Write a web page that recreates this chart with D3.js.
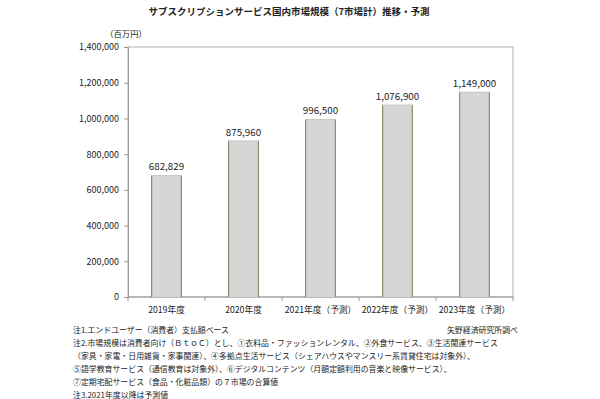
<!DOCTYPE html>
<html>
<head>
<meta charset="utf-8">
<script src="https://cdn.jsdelivr.net/npm/d3@7"></script>
<style>
  body { margin: 0; background: #fff; }
  text { font-family: "Noto Sans CJK JP", "Noto Sans", sans-serif; fill: #222; }
</style>
</head>
<body>
<script>
var years = ["2019年度", "2020年度", "2021年度（予測）", "2022年度（予測）", "2023年度（予測）"];
var values = [682829, 875960, 996500, 1076900, 1149000];
var yTicks = [0, 200000, 400000, 600000, 800000, 1000000, 1200000, 1400000];
var notes = [
  "注1.エンドユーザー（消費者）支払額ベース",
  "注2.市場規模は消費者向け（ＢｔｏＣ）とし、①衣料品・ファッションレンタル、②外食サービス、③生活関連サービス",
  "（家具・家電・日用雑貨・家事関連）、④多拠点生活サービス（シェアハウスやマンスリー系賃貸住宅は対象外）、",
  "⑤語学教育サービス（通信教育は対象外）、⑥デジタルコンテンツ（月額定額利用の音楽と映像サービス）、",
  "⑦定期宅配サービス（食品・化粧品類）の７市場の合算値",
  "注3.2021年度以降は予測値"
];

var margin = {top: 47, right: 87, bottom: 102, left: 128};
var width = 600 - margin.left - margin.right;
var height = 399 - margin.top - margin.bottom;

var svg = d3.select("body").append("svg")
    .attr("width", 600)
    .attr("height", 399);

var g = svg.append("g")
    .attr("transform", "translate(" + margin.left + "," + margin.top + ")");

var xScale = d3.scaleBand().domain(years).range([0, width]).paddingInner(0.6).paddingOuter(0.3);
var yScale = d3.scaleLinear().domain([0, 1400000]).range([height, 0]);

// plot area border
g.append("rect")
    .attr("width", width)
    .attr("height", height)
    .attr("fill", "none")
    .attr("stroke", "#bdbdbd")
    .attr("stroke-width", 1.2);

// y axis
var yAxis = g.append("g")
    .call(d3.axisLeft(yScale).tickValues(yTicks).tickSize(4).tickPadding(5).tickFormat(d3.format(",")));
yAxis.select(".domain").attr("stroke", "#999");
yAxis.selectAll(".tick line").attr("stroke", "#999");
yAxis.selectAll("text").attr("font-size", "9px").attr("fill", "#333");

// x axis with ticks between categories
var xAxis = g.append("g").attr("transform", "translate(0," + height + ")");
xAxis.append("line").attr("x1", 0).attr("x2", width).attr("stroke", "#999");
var step = xScale.step();
xAxis.selectAll(".sep")
    .data(d3.range(years.length + 1))
    .enter().append("line")
    .attr("x1", function(i) { return i * step; })
    .attr("x2", function(i) { return i * step; })
    .attr("y1", 0).attr("y2", 4)
    .attr("stroke", "#999");
xAxis.selectAll(".lbl")
    .data(years)
    .enter().append("text")
    .attr("x", function(d) { return xScale(d) + xScale.bandwidth() / 2; })
    .attr("y", 16)
    .attr("text-anchor", "middle")
    .attr("font-size", "8.7px")
    .text(function(d) { return d; });

// bars
var bars = g.selectAll(".bar")
    .data(values)
    .enter().append("g");

bars.append("rect")
    .attr("x", function(d, i) { return xScale(years[i]); })
    .attr("y", function(d) { return yScale(d); })
    .attr("width", xScale.bandwidth())
    .attr("height", function(d) { return height - yScale(d); })
    .attr("fill", "#d6d6d6");

bars.append("line")
    .attr("x1", function(d, i) { return xScale(years[i]) + 0.5; })
    .attr("x2", function(d, i) { return xScale(years[i]) + 0.5; })
    .attr("y1", function(d) { return yScale(d); })
    .attr("y2", height)
    .attr("stroke", "#8d8c70").attr("stroke-width", 1.2);

bars.append("line")
    .attr("x1", function(d, i) { return xScale(years[i]) + xScale.bandwidth() - 0.5; })
    .attr("x2", function(d, i) { return xScale(years[i]) + xScale.bandwidth() - 0.5; })
    .attr("y1", function(d) { return yScale(d); })
    .attr("y2", height)
    .attr("stroke", "#8d8c70").attr("stroke-width", 1.2);

bars.append("line")
    .attr("x1", function(d, i) { return xScale(years[i]); })
    .attr("x2", function(d, i) { return xScale(years[i]) + xScale.bandwidth(); })
    .attr("y1", function(d) { return yScale(d) + 0.5; })
    .attr("y2", function(d) { return yScale(d) + 0.5; })
    .attr("stroke", "#c9c9bc").attr("stroke-width", 1);

bars.append("text")
    .attr("x", function(d, i) { return xScale(years[i]) + xScale.bandwidth() / 2; })
    .attr("y", function(d) { return yScale(d) - 5; })
    .attr("text-anchor", "middle")
    .attr("font-size", "9.8px")
    .text(function(d) { return d3.format(",")(d); });

// title and unit
svg.append("text")
    .attr("x", 289).attr("y", 15)
    .attr("text-anchor", "middle")
    .attr("font-size", "9.5px")
    .attr("font-weight", "bold")
    .text("サブスクリプションサービス国内市場規模（7市場計）推移・予測");

svg.append("text")
    .attr("x", 126).attr("y", 37)
    .attr("text-anchor", "middle")
    .attr("font-size", "8.3px")
    .text("（百万円）");

// notes
svg.selectAll(".note")
    .data(notes)
    .enter().append("text")
    .attr("x", 73)
    .attr("y", function(d, i) { return 333 + i * 13; })
    .attr("font-size", "7.9px")
    .text(function(d) { return d; });

svg.append("text")
    .attr("x", 518).attr("y", 333)
    .attr("text-anchor", "end")
    .attr("font-size", "7.9px")
    .text("矢野経済研究所調べ");
</script>
</body>
</html>
